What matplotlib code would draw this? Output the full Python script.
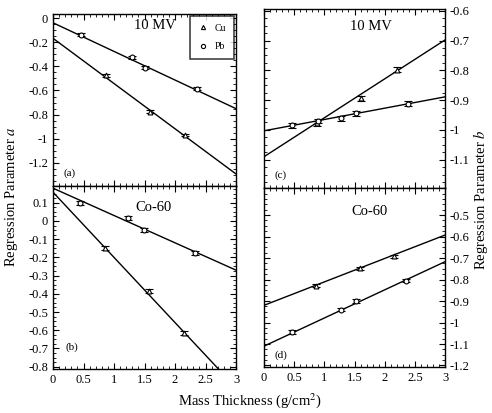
import numpy as np
import matplotlib
matplotlib.use("Agg")
import matplotlib.pyplot as plt
from matplotlib.ticker import MultipleLocator, AutoMinorLocator
from matplotlib.lines import Line2D

plt.rcParams['font.family'] = ['Liberation Serif', 'DejaVu Serif']
plt.rcParams['mathtext.fontset'] = 'stix'

# ---------------- data ----------------
# Panel (a): 10 MV, parameter a
a_pb_x = [0.46, 1.29, 1.51, 2.36]
a_pb_y = [-0.135, -0.325, -0.41, -0.585]
a_cu_x = [0.87, 1.59, 2.17]
a_cu_y = [-0.475, -0.775, -0.97]
a_pb_fit = [-0.238, -0.037]   # slope, intercept
a_cu_fit = [-0.376, -0.166]

# Panel (b): Co-60, parameter a
b_pb_x = [0.44, 1.23, 1.49, 2.33]
b_pb_y = [0.10, 0.015, -0.05, -0.175]
b_cu_x = [0.86, 1.58, 2.15]
b_cu_y = [-0.15, -0.385, -0.615]
b_pb_fit = [-0.15, 0.18]
b_cu_fit = [-0.358, 0.158]

# Panel (c): 10 MV, parameter b
c_pb_x = [0.47, 0.89, 1.27, 1.52, 2.38]
c_pb_y = [-0.985, -0.97, -0.961, -0.944, -0.912]
c_cu_x = [0.88, 1.60, 2.20]
c_cu_y = [-0.978, -0.894, -0.798]
c_pb_fit = [0.038, -1.003]
c_cu_fit = [0.1307, -1.09]

# Panel (d): Co-60, parameter b
d_pb_x = [0.47, 1.27, 1.52, 2.36]
d_pb_y = [-1.045, -0.94, -0.90, -0.805]
d_cu_x = [0.87, 1.59, 2.16]
d_cu_y = [-0.828, -0.748, -0.692]
d_pb_fit = [0.131, -1.11]
d_cu_fit = [0.109, -0.92]

err_a = 0.012
err_b = 0.008

x_ticks = [0, 0.5, 1, 1.5, 2, 2.5, 3]
x_tick_labels = ['0', '0.5', '1', '1.5', '2', '2.5', '3']

W, H = 492, 413
fig = plt.figure(figsize=(W / 100, H / 100), dpi=100)

def px_axes(x0, x1, y0, y1):
    return fig.add_axes([x0 / W, 1 - y1 / H, (x1 - x0) / W, (y1 - y0) / H])

ax_a = px_axes(53, 236, 14, 186)
ax_b = px_axes(53, 236, 186, 369)
ax_c = px_axes(264, 445, 9, 188)
ax_d = px_axes(264, 445, 188, 367)

xfit = np.linspace(0, 3, 50)

def draw(ax, pbx, pby, cux, cuy, pbfit, cufit, err):
    ax.plot(xfit, np.polyval(pbfit, xfit), color='black', lw=1.0)
    ax.plot(xfit, np.polyval(cufit, xfit), color='black', lw=1.0)
    ax.errorbar(cux, cuy, yerr=err, fmt='^', ms=3.5, mfc='white', mec='black',
                mew=0.8, ecolor='black', elinewidth=0.8, capsize=2.8, zorder=3)
    ax.errorbar(pbx, pby, yerr=err, fmt='o', ms=3.5, mfc='white', mec='black',
                mew=0.8, ecolor='black', elinewidth=0.8, capsize=2.8, zorder=3)
    ax.set_xlim(0, 3)
    ax.xaxis.set_major_locator(MultipleLocator(0.5))
    ax.xaxis.set_minor_locator(MultipleLocator(0.1))
    ax.yaxis.set_minor_locator(AutoMinorLocator(4))
    ax.tick_params(which='both', direction='in', top=True, right=True, left=True, bottom=True,
                   labelsize=9)
    ax.tick_params(which='major', length=4.5, width=0.8)
    ax.tick_params(which='minor', length=2, width=0.6)
    for s in ax.spines.values():
        s.set_linewidth(1.0)

draw(ax_a, a_pb_x, a_pb_y, a_cu_x, a_cu_y, a_pb_fit, a_cu_fit, err_a)
draw(ax_b, b_pb_x, b_pb_y, b_cu_x, b_cu_y, b_pb_fit, b_cu_fit, err_a)
draw(ax_c, c_pb_x, c_pb_y, c_cu_x, c_cu_y, c_pb_fit, c_cu_fit, err_b)
draw(ax_d, d_pb_x, d_pb_y, d_cu_x, d_cu_y, d_pb_fit, d_cu_fit, err_b)

handles = [Line2D([], [], ls='none', marker='^', ms=3, mfc='white', mec='black', mew=0.8),
           Line2D([], [], ls='none', marker='o', ms=3, mfc='white', mec='black', mew=0.8)]
leg = ax_a.legend(handles, ['Cu', 'Pb'], loc='upper right', fontsize=7, frameon=True,
                  fancybox=False, edgecolor='black', handlelength=1.2, handletextpad=0.6,
                  borderpad=0.8, labelspacing=1.0, borderaxespad=0.2)
leg.get_frame().set_linewidth(1.1)

# y limits and ticks
ax_a.set_ylim(-1.394, 0.036)
ax_a.set_yticks([0, -0.2, -0.4, -0.6, -0.8, -1.0, -1.2],
                ['0', '-0.2', '-0.4', '-0.6', '-0.8', '-1', '-1.2'])

ax_b.set_ylim(-0.813, 0.192)
ax_b.set_yticks([0.1, 0, -0.1, -0.2, -0.3, -0.4, -0.5, -0.6, -0.7, -0.8],
                ['0.1', '0', '-0.1', '-0.2', '-0.3', '-0.4', '-0.5', '-0.6', '-0.7', '-0.8'])

ax_c.set_ylim(-1.195, -0.594)
ax_c.set_yticks([-0.6, -0.7, -0.8, -0.9, -1.0, -1.1],
                ['-0.6', '-0.7', '-0.8', '-0.9', '-1', '-1.1'])

ax_d.set_ylim(-1.207, -0.374)
ax_d.set_yticks([-0.5, -0.6, -0.7, -0.8, -0.9, -1.0, -1.1, -1.2],
                ['-0.5', '-0.6', '-0.7', '-0.8', '-0.9', '-1', '-1.1', '-1.2'])

for ax in (ax_c, ax_d):
    ax.yaxis.tick_right()
    ax.tick_params(which='both', left=True, right=True, labelleft=False, labelright=True)

for ax in (ax_a, ax_c):
    ax.tick_params(labelbottom=False)
for ax in (ax_b, ax_d):
    ax.set_xticks(x_ticks, x_tick_labels)

# in-panel text
ax_a.text(0.557, 0.936, '10 MV', transform=ax_a.transAxes, ha='center', va='center', fontsize=10.5)
ax_c.text(0.59, 0.90, '10 MV', transform=ax_c.transAxes, ha='center', va='center', fontsize=10.5)
ax_b.text(0.55, 0.885, 'Co-60', transform=ax_b.transAxes, ha='center', va='center', fontsize=10.5)
ax_d.text(0.585, 0.868, 'Co-60', transform=ax_d.transAxes, ha='center', va='center', fontsize=10.5)

ax_a.text(0.055, 0.075, '(a)', transform=ax_a.transAxes, ha='left', va='center', fontsize=8)
ax_b.text(0.066, 0.12, '(b)', transform=ax_b.transAxes, ha='left', va='center', fontsize=8)
ax_c.text(0.06, 0.073, '(c)', transform=ax_c.transAxes, ha='left', va='center', fontsize=8)
ax_d.text(0.06, 0.067, '(d)', transform=ax_d.transAxes, ha='left', va='center', fontsize=8)

fig.text(250 / W, 1 - 401 / H, 'Mass Thickness (g/cm$^2$)', ha='center', va='center', fontsize=10.5)
fig.text(12 / W, 1 - 197 / H, 'Regression Parameter $a$', ha='center', va='center',
         rotation=90, fontsize=10.5)
fig.text(481 / W, 1 - 200 / H, 'Regression Parameter $b$', ha='center', va='center',
         rotation=90, fontsize=10.5)

fig.savefig('out.png', dpi=100)
